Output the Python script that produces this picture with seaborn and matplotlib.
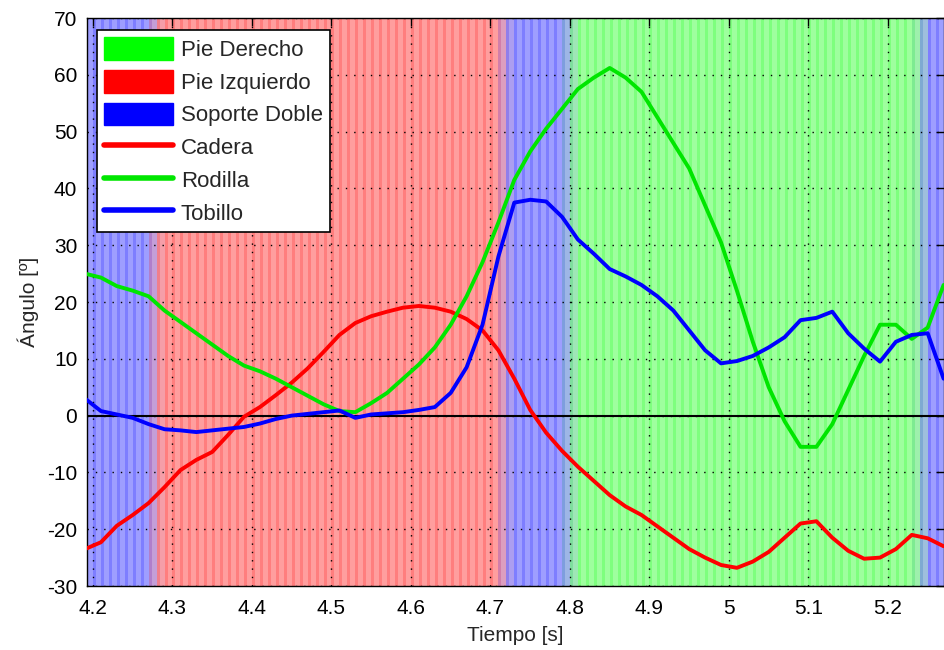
import numpy as np
import pandas as pd
import matplotlib
matplotlib.use("Agg")
import matplotlib.pyplot as plt
import seaborn as sns
from matplotlib.patches import Patch
from matplotlib.lines import Line2D

# ---------------- data ----------------
tiempo = [4.19, 4.21, 4.23, 4.25, 4.27, 4.29, 4.31, 4.33, 4.35, 4.37,
          4.39, 4.41, 4.43, 4.45, 4.47, 4.49, 4.51, 4.53, 4.55, 4.57,
          4.59, 4.61, 4.63, 4.65, 4.67, 4.69, 4.71, 4.73, 4.75, 4.77,
          4.79, 4.81, 4.83, 4.85, 4.87, 4.89, 4.91, 4.93, 4.95, 4.97,
          4.99, 5.01, 5.03, 5.05, 5.07, 5.09, 5.11, 5.13, 5.15, 5.17,
          5.19, 5.21, 5.23, 5.25, 5.27]

cadera = [-23.5, -22.3, -19.4, -17.5, -15.4, -12.6, -9.6, -7.8, -6.4, -3.4,
          -0.2, 1.5, 3.6, 5.8, 8.3, 11.2, 14.2, 16.3, 17.5, 18.3,
          19.0, 19.3, 19.0, 18.3, 17.0, 15.0, 11.5, 6.5, 1.0, -3.0,
          -6.2, -9.0, -11.5, -14.0, -16.0, -17.5, -19.5, -21.5, -23.5, -25.0,
          -26.3, -26.8, -25.7, -24.0, -21.5, -19.0, -18.6, -21.5, -23.8, -25.2,
          -25.0, -23.5, -21.0, -21.6, -23.0]

rodilla = [25.0, 24.3, 22.8, 22.0, 21.0, 18.5, 16.5, 14.5, 12.5, 10.5,
           8.8, 7.8, 6.5, 5.0, 3.5, 2.0, 0.8, 0.6, 2.2, 4.0,
           6.5, 9.0, 12.0, 16.0, 21.0, 27.0, 34.0, 41.5, 46.5, 50.5,
           54.0, 57.5, 59.5, 61.2, 59.5, 57.0, 52.5, 48.0, 43.5, 37.0,
           30.5, 22.0, 13.0, 5.0, -1.0, -5.5, -5.5, -1.5, 4.5, 10.5,
           16.0, 16.0, 13.5, 15.5, 23.0]

tobillo = [3.0, 0.8, 0.2, -0.4, -1.5, -2.4, -2.6, -2.9, -2.6, -2.3,
           -2.0, -1.4, -0.6, 0.0, 0.3, 0.6, 0.9, -0.4, 0.2, 0.4,
           0.6, 1.0, 1.5, 4.0, 8.5, 16.0, 28.0, 37.5, 38.0, 37.7,
           35.0, 31.0, 28.5, 25.8, 24.5, 23.0, 21.0, 18.5, 15.0, 11.5,
           9.2, 9.6, 10.5, 12.0, 13.8, 16.8, 17.2, 18.3, 14.5, 11.8,
           9.5, 13.0, 14.2, 14.5, 6.5]

fases = ['Soporte Doble', 'Pie Izquierdo', 'Soporte Doble', 'Pie Derecho', 'Soporte Doble']
limites_fases = [4.19, 4.277, 4.718, 4.800, 5.242, 5.28]

xticks = [4.2, 4.3, 4.4, 4.5, 4.6, 4.7, 4.8, 4.9, 5.0, 5.1, 5.2]
xticklabels = ['4.2', '4.3', '4.4', '4.5', '4.6', '4.7', '4.8', '4.9', '5', '5.1', '5.2']
yticks = [-30, -20, -10, 0, 10, 20, 30, 40, 50, 60, 70]

# ---------------- style ----------------
sns.set_style("white")
plt.rcParams['font.family'] = ['Liberation Sans', 'DejaVu Sans']
plt.rcParams['axes.unicode_minus'] = False

col_fase = {'Pie Derecho': np.array([0.0, 1.0, 0.0]),
            'Pie Izquierdo': np.array([1.0, 0.0, 0.0]),
            'Soporte Doble': np.array([0.0, 0.0, 1.0])}

fig = plt.figure(figsize=(9.45, 6.5), dpi=100)
ax = fig.add_axes([87/945, 1 - 586/650, (944-87)/945, (586-18)/650])

# ---- background stripes (one per 100 Hz sample) ----
dt = 0.01
ramp = 0.02
n = int(round((limites_fases[-1] - limites_fases[0]) / dt))
for k in range(n):
    t0 = limites_fases[0] + k * dt
    tc = t0 + dt / 2
    idx = np.searchsorted(limites_fases, tc) - 1
    idx = min(max(idx, 0), len(fases) - 1)
    c = col_fase[fases[idx]]
    for j in range(1, len(fases)):
        b = limites_fases[j]
        if abs(tc - b) < ramp / 2:
            f = (tc - (b - ramp / 2)) / ramp
            c = (1 - f) * col_fase[fases[j - 1]] + f * col_fase[fases[j]]
    ax.axvspan(t0, t0 + dt, color=tuple(c), alpha=0.38, lw=0, zorder=0)
    ax.axvspan(t0, t0 + 0.0038, color=tuple(c), alpha=0.2, lw=0, zorder=0)

# ---- grid ----
for xv in xticks:
    ax.axvline(xv, color='black', lw=1.0, ls=(0, (1, 5)), zorder=1)
for yv in yticks:
    ax.axhline(yv, color='black', lw=1.0, ls=(0, (1, 5)), zorder=1)
ax.axhline(0, color='black', lw=1.5, zorder=2)

# ---- curves ----
df = pd.DataFrame({'Tiempo': tiempo, 'Cadera': cadera, 'Rodilla': rodilla, 'Tobillo': tobillo})
sns.lineplot(data=df, x='Tiempo', y='Cadera', color='#ff0000', lw=2.8, ax=ax, zorder=3)
sns.lineplot(data=df, x='Tiempo', y='Rodilla', color='#00e600', lw=2.8, ax=ax, zorder=3)
sns.lineplot(data=df, x='Tiempo', y='Tobillo', color='#0000ff', lw=2.8, ax=ax, zorder=3)

ax.set_xlim(4.1925, 5.2705)
ax.set_ylim(-30, 70)
ax.set_xticks(xticks)
ax.set_xticklabels(xticklabels)
ax.set_yticks(yticks)
ax.tick_params(direction='in', length=6, width=1, top=True, right=True,
               labelsize=15, colors='black', pad=7)
ax.tick_params(axis='x', pad=9)
for s in ax.spines.values():
    s.set_visible(True)
    s.set_color('black')
    s.set_linewidth(1.0)

ax.set_xlabel('Tiempo [s]', fontsize=15, labelpad=6)
ax.set_ylabel('Ángulo [º]', fontsize=15, labelpad=6)

handles = [Patch(facecolor='#00ff00', edgecolor='#00ff00', label='Pie Derecho'),
           Patch(facecolor='#ff0000', edgecolor='#ff0000', label='Pie Izquierdo'),
           Patch(facecolor='#0000ff', edgecolor='#0000ff', label='Soporte Doble'),
           Line2D([0], [0], color='#ff0000', lw=4, label='Cadera'),
           Line2D([0], [0], color='#00e600', lw=4, label='Rodilla'),
           Line2D([0], [0], color='#0000ff', lw=4, label='Tobillo')]
leg = ax.legend(handles=handles, loc='upper left', bbox_to_anchor=(0.0117, 0.979),
                borderaxespad=0, fontsize=16, frameon=True, fancybox=False,
                handlelength=3.1, handleheight=1.2, handletextpad=0.35,
                labelspacing=0.4, borderpad=0.32, framealpha=1)
leg.get_frame().set_edgecolor('black')
leg.get_frame().set_linewidth(1.2)
leg.set_zorder(5)

fig.savefig('out.png', dpi=100)
